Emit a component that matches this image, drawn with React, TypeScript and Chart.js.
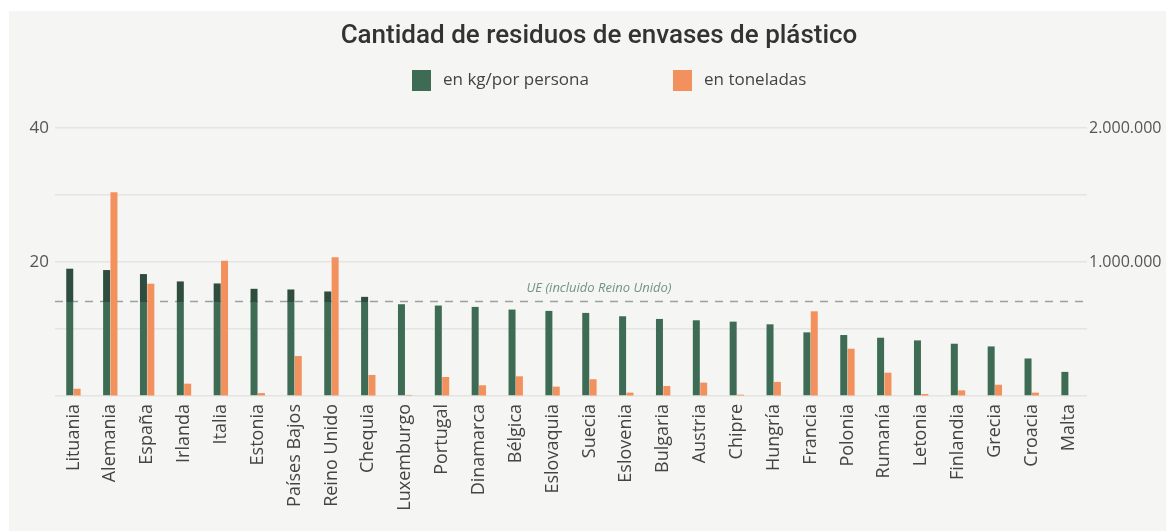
import React, { useEffect, useRef } from "react";
import { Chart, registerables } from "chart.js";

Chart.register(...registerables);

const titleText = "Cantidad de residuos de envases de plástico";
const seriesNames = ["en kg/por persona", "en toneladas"];
const categories = [
  "Lituania", "Alemania", "España", "Irlanda", "Italia", "Estonia", "Países Bajos",
  "Reino Unido", "Chequia", "Luxemburgo", "Portugal", "Dinamarca", "Bélgica",
  "Eslovaquia", "Suecia", "Eslovenia", "Bulgaria", "Austria", "Chipre", "Hungría",
  "Francia", "Polonia", "Rumanía", "Letonia", "Finlandia", "Grecia", "Croacia", "Malta",
];
const kgPerPerson = [
  19.0, 18.8, 18.2, 17.1, 16.8, 16.0, 15.9, 15.6, 14.8, 13.7, 13.5, 13.3, 12.9, 12.7,
  12.4, 11.9, 11.5, 11.3, 11.1, 10.7, 9.5, 9.1, 8.7, 8.3, 7.8, 7.4, 5.6, 3.6,
];
const tonnes = [
  54000, 1520000, 838000, 92000, 1010000, 22000, 298000, 1035000, 157000, 8000, 142000,
  80000, 147000, 70000, 125000, 25000, 75000, 100000, 10000, 105000, 632000, 353000,
  174000, 15000, 42000, 84000, 25000, 0,
];
const euAverage = 14.1;
const euLabel = "UE (incluido Reino Unido)";
const leftTickLabels = [20, 40];
const rightTickLabels = [1000000, 2000000];

const GREEN = "#3d6b54";
const GREEN_DARK = "#2e4d3e";
const ORANGE = "#f2915d";
const BG = "#f5f5f3";
const FONT = "'Open Sans', sans-serif";

const fmtThousands = (v: number) =>
  String(Math.round(v)).replace(/\B(?=(\d{3})+(?!\d))/g, ".");

const decorPlugin = {
  id: "decor",
  beforeDatasetsDraw(chart: any) {
    const { ctx, chartArea, scales } = chart;
    const y = scales.y.getPixelForValue(euAverage);
    ctx.save();
    ctx.strokeStyle = "#9aa29d";
    ctx.lineWidth = 1.5;
    ctx.setLineDash([8, 7]);
    ctx.beginPath();
    ctx.moveTo(chartArea.left, y);
    ctx.lineTo(chartArea.right + 3, y);
    ctx.stroke();
    ctx.setLineDash([]);
    ctx.fillStyle = "#6f9483";
    ctx.font = "italic 13px " + FONT;
    ctx.textAlign = "center";
    ctx.textBaseline = "middle";
    ctx.fillText(euLabel, 590, y - 13.5);
    ctx.restore();
  },
  afterDraw(chart: any) {
    const { ctx } = chart;
    ctx.save();
    ctx.fillStyle = "#333333";
    ctx.font = "500 26px Roboto, sans-serif";
    ctx.textAlign = "center";
    ctx.textBaseline = "middle";
    ctx.fillText(titleText, 590, 25);
    // legend
    const colors = [GREEN, ORANGE];
    const boxX = [403, 664];
    ctx.font = "17px " + FONT;
    ctx.textAlign = "left";
    for (let i = 0; i < seriesNames.length; i++) {
      ctx.fillStyle = colors[i];
      ctx.fillRect(boxX[i], 59, 19, 21);
      ctx.fillStyle = "#444444";
      ctx.fillText(seriesNames[i], boxX[i] + 31, 69);
    }
    ctx.restore();
  },
};

export default function App() {
  const ref = useRef<HTMLCanvasElement | null>(null);
  useEffect(() => {
    if (!ref.current) return;
    const chart = new Chart(ref.current, {
      type: "bar",
      data: {
        labels: categories,
        datasets: [
          {
            label: seriesNames[0],
            data: kgPerPerson,
            yAxisID: "y",
            backgroundColor: (c: any) => {
              const ch = c.chart;
              const area = ch.chartArea;
              if (!area) return GREEN;
              const yEU = ch.scales.y.getPixelForValue(euAverage);
              const t = Math.min(1, Math.max(0, (yEU - area.top) / (area.bottom - area.top)));
              const g = ch.ctx.createLinearGradient(0, area.top, 0, area.bottom);
              g.addColorStop(0, GREEN_DARK);
              g.addColorStop(t, GREEN_DARK);
              g.addColorStop(t, GREEN);
              g.addColorStop(1, GREEN);
              return g;
            },
            categoryPercentage: 0.4,
            barPercentage: 0.95,
          },
          {
            label: seriesNames[1],
            data: tonnes,
            yAxisID: "y1",
            backgroundColor: ORANGE,
            categoryPercentage: 0.4,
            barPercentage: 0.95,
          },
        ],
      },
      options: {
        responsive: false,
        animation: false,
        layout: { padding: { top: 117, left: 0, right: 0, bottom: 0 } },
        plugins: {
          legend: { display: false },
          title: { display: false },
          tooltip: { enabled: false },
        },
        scales: {
          x: {
            grid: { display: false, drawTicks: false },
            border: { display: false },
            ticks: {
              color: "#444444",
              font: { family: FONT, size: 18 },
              minRotation: 90,
              maxRotation: 90,
              padding: 8,
              autoSkip: false,
            },
            afterFit: (s: any) => {
              s.height = 135;
            },
          },
          y: {
            position: "left",
            min: 0,
            max: 40,
            grid: { color: "#e4e4e2", lineWidth: 1.5, drawTicks: false },
            border: { display: false },
            ticks: {
              stepSize: 10,
              padding: 6,
              color: "#555555",
              font: { family: FONT, size: 17 },
              callback: (v: any) => (leftTickLabels.includes(Number(v)) ? String(v) : ""),
            },
            afterFit: (s: any) => {
              s.width = 46;
            },
          },
          y1: {
            position: "right",
            min: 0,
            max: 2000000,
            grid: { drawOnChartArea: false, drawTicks: false },
            border: { display: false },
            ticks: {
              stepSize: 500000,
              padding: 2,
              color: "#555555",
              font: { family: FONT, size: 16 },
              callback: (v: any) =>
                rightTickLabels.includes(Number(v)) ? fmtThousands(Number(v)) : "",
            },
            afterFit: (s: any) => {
              s.width = 79;
            },
          },
        },
      },
      plugins: [decorPlugin],
    } as any);
    return () => chart.destroy();
  }, []);

  return (
    <div
      style={{
        position: "absolute",
        left: 9,
        top: 11,
        width: 1157,
        height: 520,
        background: BG,
      }}
    >
      <canvas ref={ref} width={1157} height={520} style={{ display: "block" }} />
    </div>
  );
}
